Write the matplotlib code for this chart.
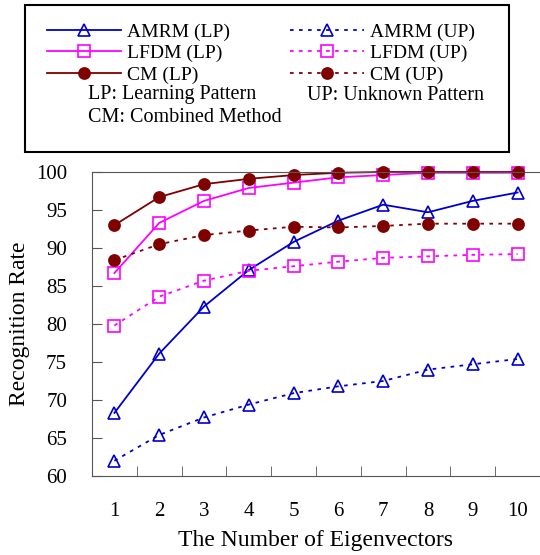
import matplotlib
matplotlib.use('Agg')
import matplotlib.pyplot as plt
from matplotlib.patches import Rectangle

plt.rcParams['font.family'] = ['Liberation Serif', 'DejaVu Serif']

# données
eigen = [1, 2, 3, 4, 5, 6, 7, 8, 9, 10]
amrm_lp = [68.3, 76.1, 82.3, 87.1, 90.8, 93.6, 95.7, 94.7, 96.2, 97.3]
amrm_up = [62.0, 65.4, 67.7, 69.4, 70.9, 71.8, 72.5, 74.0, 74.7, 75.4]
lfdm_lp = [86.7, 93.3, 96.2, 97.9, 98.6, 99.3, 99.6, 99.9, 99.9, 99.9]
lfdm_up = [79.8, 83.6, 85.7, 87.0, 87.6, 88.2, 88.7, 88.9, 89.1, 89.2]
cm_lp = [93.0, 96.7, 98.4, 99.1, 99.6, 99.9, 100.0, 100.0, 100.0, 100.0]
cm_up = [88.4, 90.5, 91.7, 92.3, 92.8, 92.7, 92.9, 93.2, 93.2, 93.2]

blue = '#0000CC'
pink = '#FF00FF'
red = '#800000'
dots = (0, (2, 3))

fig = plt.figure(figsize=(5.4, 5.55), dpi=100)
ax = fig.add_axes([92/540, 79/555, 448/540, 304/555])

styles = [
    (amrm_lp, blue, '-', '^', 'none', 9, 'AMRM (LP)'),
    (amrm_up, blue, dots, '^', 'none', 9, 'AMRM (UP)'),
    (lfdm_lp, pink, '-', 's', 'none', 8, 'LFDM (LP)'),
    (lfdm_up, pink, dots, 's', 'none', 8, 'LFDM (UP)'),
    (cm_lp, red, '-', 'o', red, 8, 'CM (LP)'),
    (cm_up, red, dots, 'o', red, 8, 'CM (UP)'),
]
handles = {}
for vals, c, ls, m, fc, ms, lab in styles:
    ln, = ax.plot(eigen, vals, color=c, linestyle=ls, marker=m, markerfacecolor=fc,
                  markeredgecolor=c, markersize=ms, markeredgewidth=1.2, linewidth=1.3,
                  label=lab, clip_on=False)
    handles[lab] = ln

ax.set_xlim(0.5, 10.5)
ax.set_ylim(60, 100)
ax.set_yticks(range(60, 101, 5))
ax.set_xticks(eigen)
ax.set_xticks([i + 0.5 for i in eigen[:-1]], minor=True)
ax.tick_params(axis='x', which='major', length=0, pad=19, labelsize=15)
ax.tick_params(axis='x', which='minor', direction='in', length=7, color='#555555')
ax.tick_params(axis='y', direction='in', length=7, pad=18, labelsize=15, color='#555555')
for s in ['left', 'bottom', 'top']:
    ax.spines[s].set_color('#555555')
ax.spines['right'].set_visible(False)
ax.set_xlabel('The Number of Eigenvectors', fontsize=17, labelpad=6)
ax.set_ylabel('Recognition Rate', fontsize=17, labelpad=4)

# boîte de légende
fig.patches.append(Rectangle((25/540, 1 - 152/555), 484/540, 147/555,
                             transform=fig.transFigure, fill=False,
                             edgecolor='black', linewidth=1.5))
order = ['AMRM (LP)', 'LFDM (LP)', 'CM (LP)', 'AMRM (UP)', 'LFDM (UP)', 'CM (UP)']
leg = fig.legend([handles[k] for k in order], order, ncol=2,
                 loc='upper left', bbox_to_anchor=(47/540, 1 - 23/555),
                 frameon=False, fontsize=14, handlelength=3.8, handletextpad=0.3,
                 columnspacing=3.1, labelspacing=0.2, borderaxespad=0, borderpad=0)
fig.text(88/540, 1 - 95/555, 'LP: Learning Pattern', fontsize=14.5, va='center')
fig.text(307/540, 1 - 95/555, 'UP: Unknown Pattern', fontsize=14.5, va='center')
fig.text(88/540, 1 - 117/555, 'CM: Combined Method', fontsize=14.5, va='center')

fig.savefig('out.png', dpi=100)
